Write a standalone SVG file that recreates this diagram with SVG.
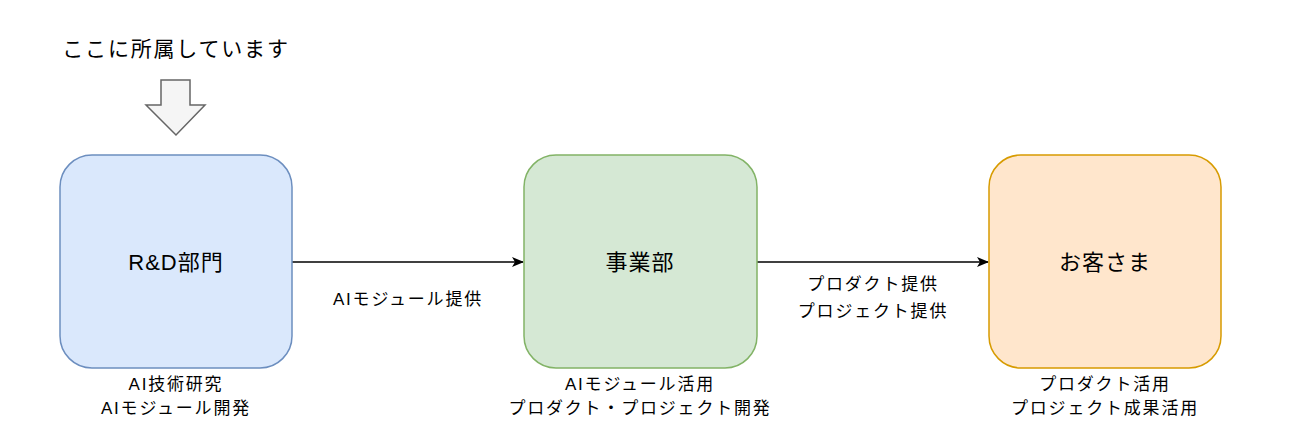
<svg xmlns="http://www.w3.org/2000/svg" width="1299" height="445" viewBox="0 0 1299 445">
<style>
text{font-family:"Liberation Sans","Noto Sans CJK JP",sans-serif;fill:#000;text-anchor:middle}
.big{font-size:22px;letter-spacing:1px}
.top{font-size:21px;letter-spacing:1.8px}
.sm{font-size:17px;letter-spacing:1.8px}
.box{stroke-width:1.5}
.conn{stroke:#000;stroke-width:1.5;fill:none}
</style>
<defs>
<marker id="ah" markerWidth="12" markerHeight="10" refX="11" refY="5" orient="auto" markerUnits="userSpaceOnUse">
<path d="M0,0 L12,5 L0,10 L3,5 Z" fill="#000"/>
</marker>
</defs>
<rect width="1299" height="445" fill="#fff"/>
<g id="note">
<text x="176" y="56" class="top">ここに所属しています</text>
<path d="M161,80 H190 V105 H205 L176,135 L146,105 H161 Z" fill="#f5f5f5" stroke="#666" stroke-width="1.5"/>
</g>
<g id="connectors">
<line x1="292" y1="262" x2="523" y2="262" class="conn" marker-end="url(#ah)"/>
<line x1="757" y1="262" x2="988" y2="262" class="conn" marker-end="url(#ah)"/>
<text x="408" y="305" class="sm">AIモジュール提供</text>
<text x="873" y="290" class="sm">プロダクト提供</text>
<text x="873" y="317" class="sm">プロジェクト提供</text>
</g>
<g id="rd">
<rect x="60" y="155" width="232" height="213" rx="32" fill="#dae8fc" stroke="#6c8ebf" class="box"/>
<text x="176" y="270" class="big">R&amp;D部門</text>
<text x="176" y="390" class="sm">AI技術研究</text>
<text x="176" y="414" class="sm">AIモジュール開発</text>
</g>
<g id="biz">
<rect x="524" y="155" width="233" height="213" rx="32" fill="#d5e8d4" stroke="#82b366" class="box"/>
<text x="640" y="270" class="big">事業部</text>
<text x="640" y="390" class="sm">AIモジュール活用</text>
<text x="640" y="414" class="sm">プロダクト・プロジェクト開発</text>
</g>
<g id="customer">
<rect x="989" y="155" width="232" height="213" rx="32" fill="#ffe6cc" stroke="#d79b00" class="box"/>
<text x="1105" y="270" class="big">お客さま</text>
<text x="1105" y="390" class="sm">プロダクト活用</text>
<text x="1105" y="414" class="sm">プロジェクト成果活用</text>
</g>
</svg>
